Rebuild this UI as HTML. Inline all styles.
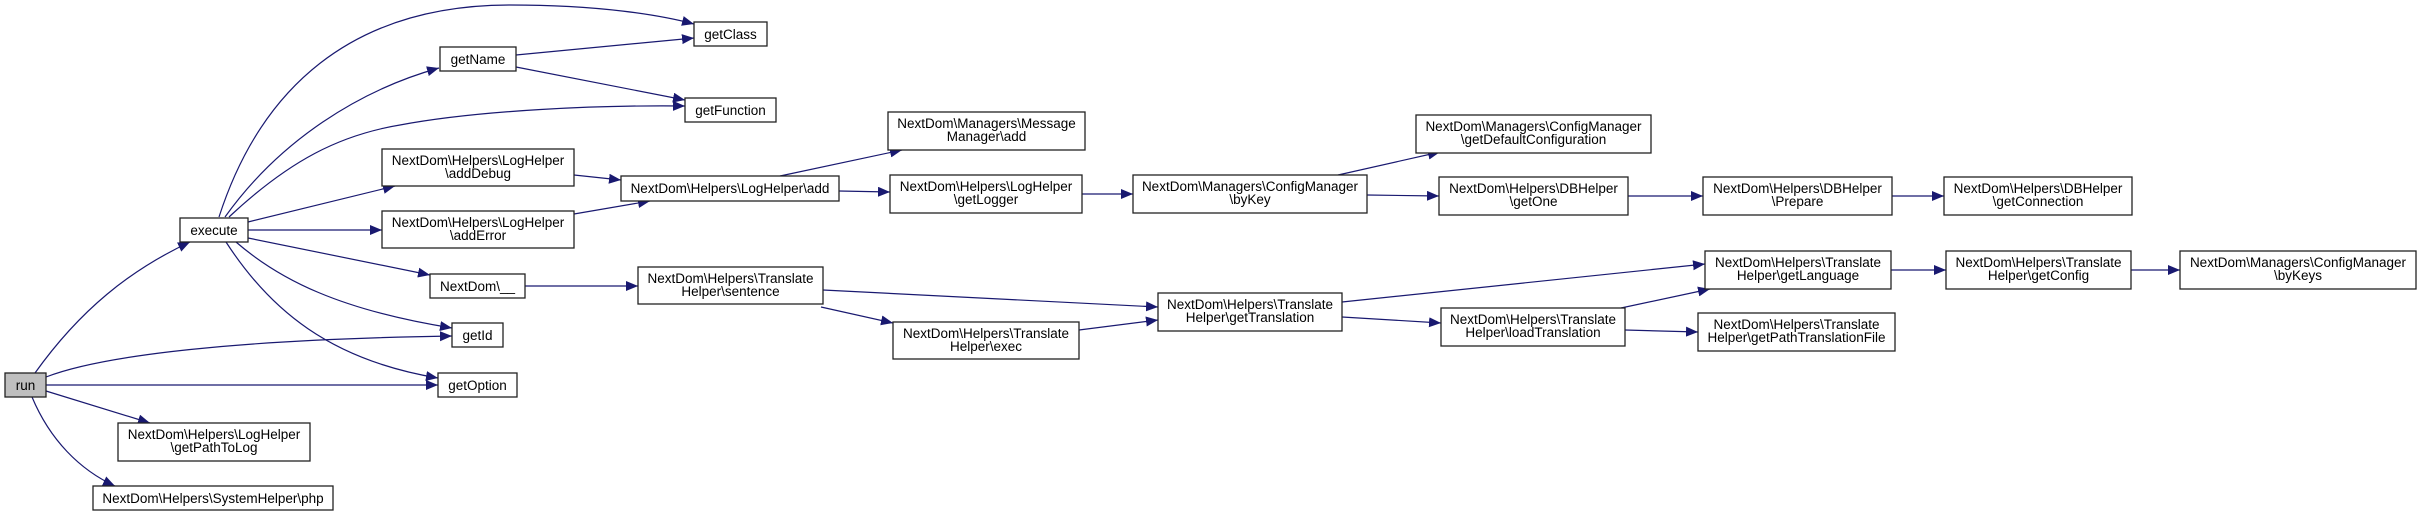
<!DOCTYPE html>
<html><head><meta charset="utf-8"><style>
html,body{margin:0;padding:0;background:#fff;}
svg{display:block;}
text{font-family:"Liberation Sans",Arial,sans-serif;font-size:13.5px;fill:#000;text-anchor:middle;}
.b{fill:#fff;stroke:#222;stroke-width:1.3;}
.e{fill:none;stroke:#191970;stroke-width:1.2;}
</style></head><body>
<svg width="2420" height="516" viewBox="0 0 2420 516" xmlns="http://www.w3.org/2000/svg">
<defs><marker id="a" markerUnits="userSpaceOnUse" markerWidth="14" markerHeight="12" refX="12" refY="5" orient="auto"><path d="M0,0 L12,5 L0,10 Z" fill="#191970"/></marker></defs>
<g marker-end="url(#a)">
<path class="e" d="M35,373 C80,310 130,270 190,242"/>
<path class="e" d="M46,377 C90,360 200,340 452,336"/>
<path class="e" d="M46,385 L438,385"/>
<path class="e" d="M46,391 L150,423"/>
<path class="e" d="M32,397 C50,440 80,470 115,486"/>
<path class="e" d="M219,217 C260,90 350,5 510,5 C600,5 660,15 694,24"/>
<path class="e" d="M225,217 C280,140 360,90 439,68"/>
<path class="e" d="M229,217 C290,160 340,135 400,125 C480,110 600,105 685,106"/>
<path class="e" d="M248,222 L395,186"/>
<path class="e" d="M248,230 L382,230"/>
<path class="e" d="M248,238 L430,275"/>
<path class="e" d="M236,242 C280,280 340,310 452,328"/>
<path class="e" d="M226,242 C270,310 330,360 438,378"/>
<path class="e" d="M516,55 L694,38"/>
<path class="e" d="M516,67 L685,100"/>
<path class="e" d="M574,175 L621,180"/>
<path class="e" d="M574,214 L650,201"/>
<path class="e" d="M525,286 L638,286"/>
<path class="e" d="M780,176 L902,150"/>
<path class="e" d="M839,191 L890,192"/>
<path class="e" d="M1082,194 L1133,194"/>
<path class="e" d="M1338,175 L1440,152"/>
<path class="e" d="M1367,195 L1439,196"/>
<path class="e" d="M1628,196 L1703,196"/>
<path class="e" d="M1892,196 L1944,196"/>
<path class="e" d="M823,290 L1158,307"/>
<path class="e" d="M821,307 L893,323"/>
<path class="e" d="M1079,330 L1158,320"/>
<path class="e" d="M1342,302 L1705,264"/>
<path class="e" d="M1342,317 L1441,323"/>
<path class="e" d="M1621,308 L1710,289"/>
<path class="e" d="M1625,330 L1698,332"/>
<path class="e" d="M1891,270 L1946,270"/>
<path class="e" d="M2131,270 L2180,270"/>
</g>
<rect x="5" y="373" width="41" height="24" style="fill:#bfbfbf;stroke:#222;stroke-width:1.3"/><text x="25.5" y="390">run</text>
<rect class="b" x="180" y="218" width="68" height="24"/><text x="214" y="235">execute</text>
<rect class="b" x="440" y="47" width="76" height="24"/><text x="478" y="64">getName</text>
<rect class="b" x="694" y="22" width="73" height="24"/><text x="730.5" y="39">getClass</text>
<rect class="b" x="685" y="98" width="91" height="24"/><text x="730.5" y="115">getFunction</text>
<rect class="b" x="382" y="149" width="192" height="37"/><text x="478" y="165">NextDom\Helpers\LogHelper</text><text x="478" y="178">\addDebug</text>
<rect class="b" x="382" y="211" width="192" height="37"/><text x="478" y="227">NextDom\Helpers\LogHelper</text><text x="478" y="240">\addError</text>
<rect class="b" x="430" y="274" width="95" height="24"/><text x="477.5" y="291">NextDom\__</text>
<rect class="b" x="452" y="323" width="51" height="24"/><text x="477.5" y="340">getId</text>
<rect class="b" x="438" y="373" width="79" height="24"/><text x="477.5" y="390">getOption</text>
<rect class="b" x="118" y="423" width="192" height="38"/><text x="214" y="439">NextDom\Helpers\LogHelper</text><text x="214" y="452">\getPathToLog</text>
<rect class="b" x="93" y="486" width="240" height="24"/><text x="213" y="503">NextDom\Helpers\SystemHelper\php</text>
<rect class="b" x="621" y="176" width="218" height="25"/><text x="730" y="193">NextDom\Helpers\LogHelper\add</text>
<rect class="b" x="638" y="267" width="185" height="37"/><text x="730.5" y="283">NextDom\Helpers\Translate</text><text x="730.5" y="296">Helper\sentence</text>
<rect class="b" x="888" y="112" width="197" height="38"/><text x="986.5" y="128">NextDom\Managers\Message</text><text x="986.5" y="141">Manager\add</text>
<rect class="b" x="890" y="175" width="192" height="38"/><text x="986" y="191">NextDom\Helpers\LogHelper</text><text x="986" y="204">\getLogger</text>
<rect class="b" x="893" y="322" width="186" height="37"/><text x="986" y="338">NextDom\Helpers\Translate</text><text x="986" y="351">Helper\exec</text>
<rect class="b" x="1133" y="175" width="234" height="38"/><text x="1250" y="191">NextDom\Managers\ConfigManager</text><text x="1250" y="204">\byKey</text>
<rect class="b" x="1158" y="293" width="184" height="38"/><text x="1250" y="309">NextDom\Helpers\Translate</text><text x="1250" y="322">Helper\getTranslation</text>
<rect class="b" x="1416" y="115" width="235" height="38"/><text x="1533.5" y="131">NextDom\Managers\ConfigManager</text><text x="1533.5" y="144">\getDefaultConfiguration</text>
<rect class="b" x="1439" y="177" width="189" height="38"/><text x="1533.5" y="193">NextDom\Helpers\DBHelper</text><text x="1533.5" y="206">\getOne</text>
<rect class="b" x="1441" y="308" width="184" height="38"/><text x="1533" y="324">NextDom\Helpers\Translate</text><text x="1533" y="337">Helper\loadTranslation</text>
<rect class="b" x="1703" y="177" width="189" height="38"/><text x="1797.5" y="193">NextDom\Helpers\DBHelper</text><text x="1797.5" y="206">\Prepare</text>
<rect class="b" x="1705" y="251" width="186" height="38"/><text x="1798" y="267">NextDom\Helpers\Translate</text><text x="1798" y="280">Helper\getLanguage</text>
<rect class="b" x="1698" y="313" width="197" height="38"/><text x="1796.5" y="329">NextDom\Helpers\Translate</text><text x="1796.5" y="342">Helper\getPathTranslationFile</text>
<rect class="b" x="1944" y="177" width="188" height="38"/><text x="2038" y="193">NextDom\Helpers\DBHelper</text><text x="2038" y="206">\getConnection</text>
<rect class="b" x="1946" y="251" width="185" height="38"/><text x="2038.5" y="267">NextDom\Helpers\Translate</text><text x="2038.5" y="280">Helper\getConfig</text>
<rect class="b" x="2180" y="251" width="236" height="38"/><text x="2298" y="267">NextDom\Managers\ConfigManager</text><text x="2298" y="280">\byKeys</text>
</svg>
</body></html>
